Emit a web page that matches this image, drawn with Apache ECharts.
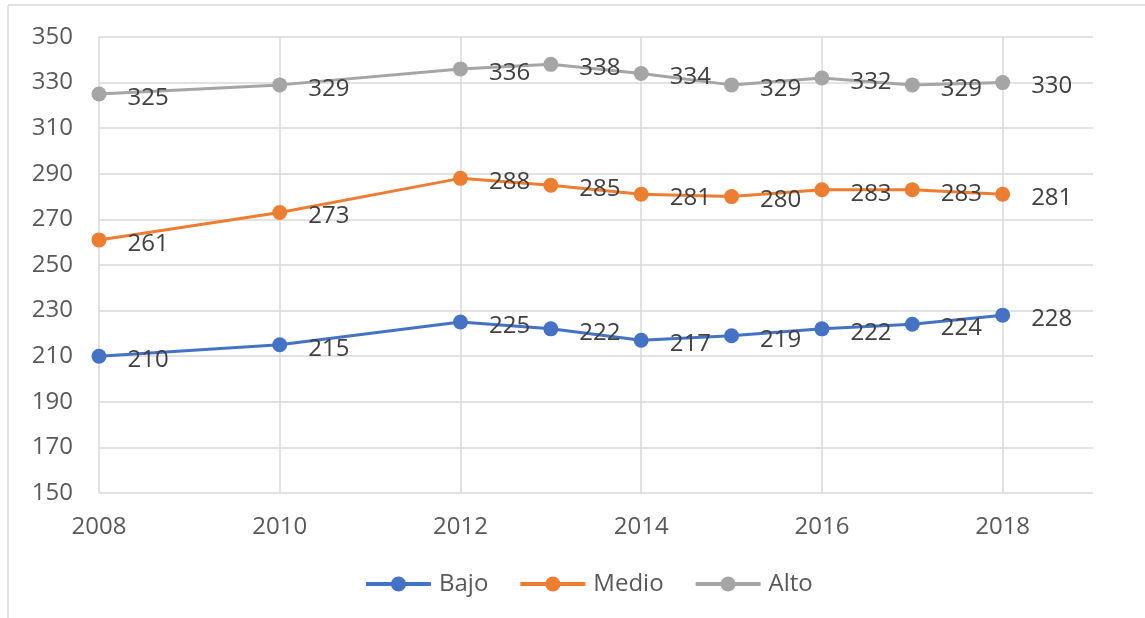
<!DOCTYPE html>
<html>
<head>
    <meta charset="utf-8">
    <title>Bajo / Medio / Alto</title>
    <script src="https://cdn.jsdelivr.net/npm/echarts@6/dist/echarts.min.js"></script>
    <style>
        html, body { margin: 0; padding: 0; background: #fff; }
        #chart1 { width: 1145px; height: 618px; }
    </style>
</head>
<body>
<div id="chart1"></div>
<script type="text/javascript">
    // datos
    var years = [2008, 2010, 2012, 2013, 2014, 2015, 2016, 2017, 2018];
    var bajo  = [210, 215, 225, 222, 217, 219, 222, 224, 228];
    var medio = [261, 273, 288, 285, 281, 280, 283, 283, 281];
    var alto  = [325, 329, 336, 338, 334, 329, 332, 329, 330];
    var seriesNames = ['Bajo', 'Medio', 'Alto'];
    var colors = ['#4472C4', '#ED7D31', '#A5A5A5'];

    var font = '"Open Sans", sans-serif';
    var gridColor = '#D9D9D9';

    function pairs(vals) {
        return years.map(function (y, i) { return [y, vals[i]]; });
    }

    function makeSeries(name, vals, color) {
        return {
            name: name,
            type: 'line',
            data: pairs(vals),
            symbol: 'circle',
            symbolSize: 15,
            itemStyle: { color: color },
            lineStyle: { color: color, width: 3 },
            label: {
                show: true,
                position: 'right',
                distance: 21,
                offset: [0, 4],
                color: '#404040',
                fontFamily: font,
                fontSize: 24,
                formatter: function (p) { return p.value[1]; }
            },
            animation: false
        };
    }

    var myChart = echarts.init(document.getElementById('chart1'));
    var option = {
        backgroundColor: '#fff',
        color: colors,
        grid: { left: 99, top: 37, right: 52, bottom: 125, containLabel: false },
        xAxis: {
            type: 'value',
            min: 2008,
            max: 2019,
            interval: 2,
            axisLine: { show: false },
            axisTick: { show: false },
            axisLabel: {
                color: '#595959', fontFamily: font, fontSize: 24,
                margin: 22, showMaxLabel: false,
                formatter: function (v) { return String(v); }
            },
            splitLine: { show: true, showMaxLine: false, lineStyle: { color: gridColor, width: 1.5 } }
        },
        yAxis: {
            type: 'value',
            min: 150,
            max: 350,
            interval: 20,
            axisLine: { show: false },
            axisTick: { show: false },
            axisLabel: { color: '#595959', fontFamily: font, fontSize: 24, margin: 26 },
            splitLine: { lineStyle: { color: gridColor, width: 1.5 } }
        },
        legend: {
            left: 359,
            top: 567,
            itemWidth: 65,
            itemHeight: 19,
            itemGap: 30,
            lineStyle: { width: 4 },
            textStyle: { color: '#595959', fontFamily: font, fontSize: 24, padding: [0, 0, 0, 3] },
            data: seriesNames
        },
        graphic: [
            { type: 'line', shape: { x1: 8, y1: 5, x2: 8, y2: 618 }, style: { stroke: gridColor, lineWidth: 1.5 } },
            { type: 'line', shape: { x1: 8, y1: 5, x2: 1145, y2: 5 }, style: { stroke: gridColor, lineWidth: 1.5 } }
        ],
        series: [
            makeSeries(seriesNames[0], bajo, colors[0]),
            makeSeries(seriesNames[1], medio, colors[1]),
            makeSeries(seriesNames[2], alto, colors[2])
        ]
    };
    myChart.setOption(option);
</script>
</body>
</html>
